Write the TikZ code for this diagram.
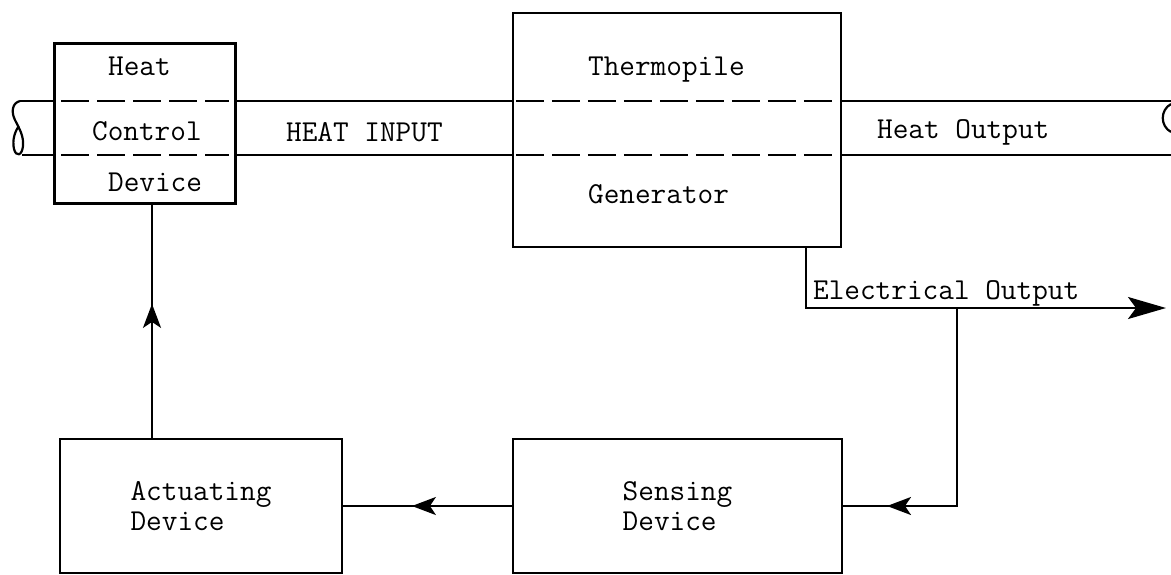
\documentclass[tikz,border=0pt]{standalone}
\usepackage{tikz}
\usetikzlibrary{arrows.meta,positioning,calc,decorations.markings}

\begin{document}
\begin{tikzpicture}[
  x=0.5pt, y=-0.5pt,
  line width=1.1pt,
  font=\fontsize{15.2}{15}\selectfont\ttfamily,
  box/.style={draw, rectangle, inner sep=0pt, align=left},
  lbl/.style={anchor=base west, inner sep=0pt},
  sep/.style={dash pattern=on 14pt off 4pt},
  elarr/.style={-{Stealth[length=19pt, width=11pt, inset=4pt]}},
  fb/.style={postaction={decorate, decoration={markings,
    mark=at position #1 with {\arrow{Stealth[length=12pt, width=9pt, inset=3pt]}}}}}
]
\useasboundingbox (0,0) rectangle (1171,574);
\node[box, minimum width=90.5pt, minimum height=80pt] (hcd) at (145,123.5) {};
\node[box, minimum width=164pt, minimum height=117pt] (thermo) at (677,130) {};
\node[box, minimum width=164.5pt, minimum height=67pt] (sense) at (677.5,506) {Sensing\\Device};
\node[box, minimum width=141pt, minimum height=67pt] (act) at (201,506) {Actuating\\Device};
\node[lbl] (heat) at (107,75) {Heat};
\node[lbl] (ctl) at (91,140) {Control};
\node[lbl] (dev) at (107,191) {Device};
\node[lbl] (hin) at (285,141) {HEAT INPUT};
\node[lbl] (tpile) at (587,75) {Thermopile};
\node[lbl] (gen) at (587,203) {Generator};
\node[lbl] (hout) at (876,138) {Heat Output};
\node[lbl] (eout) at (812,299) {Electrical Output};
\coordinate (ptop) at (0,101);
\coordinate (pbot) at (0,155);
\coordinate (lend) at (20,101);
\coordinate (lendb) at (22,155);
\coordinate (rend) at (1171,101);
\coordinate (rendb) at (1171,155);
\draw (lend) -- (hcd.west |- ptop);
\draw (lendb) -- (hcd.west |- pbot);
\draw (hcd.east |- ptop) -- (thermo.west |- ptop);
\draw (hcd.east |- pbot) -- (thermo.west |- pbot);
\draw (thermo.east |- ptop) -- (rend);
\draw (thermo.east |- pbot) -- (rendb);
\draw[sep] ([xshift=4pt]hcd.west |- ptop) -- ([xshift=-4pt]hcd.east |- ptop);
\draw[sep] ([xshift=4pt]hcd.west |- pbot) -- ([xshift=-4pt]hcd.east |- pbot);
\draw[sep] ([xshift=2pt]thermo.west |- ptop) -- ([xshift=-2pt]thermo.east |- ptop);
\draw[sep] ([xshift=2pt]thermo.west |- pbot) -- ([xshift=-2pt]thermo.east |- pbot);
\draw (lend) .. controls (12,103) and (11,112) .. (15,120)
  .. controls (19,128) and (24,136) .. (23,146)
  .. controls (22,156) and (16,157) .. (14,149)
  .. controls (12,140) and (15,131) .. (19,126);
\draw (1171,104) .. controls (1160,110) and (1160,126) .. (1171,132);
\coordinate (etap) at ([xshift=-18pt]thermo.south east);
\coordinate (eend) at (1166,308);
\coordinate (tap) at (957,308);
\coordinate (hcdx) at ([xshift=3.5pt]hcd.south);
\draw[elarr] (etap) |- (eend);
\draw[fb=134pt] (tap) |- (sense.east);
\draw[fb=50pt] (sense.west) -- (act.east);
\draw[fb=67pt] (act.north -| hcdx) -- (hcdx);
\end{tikzpicture}
\end{document}
